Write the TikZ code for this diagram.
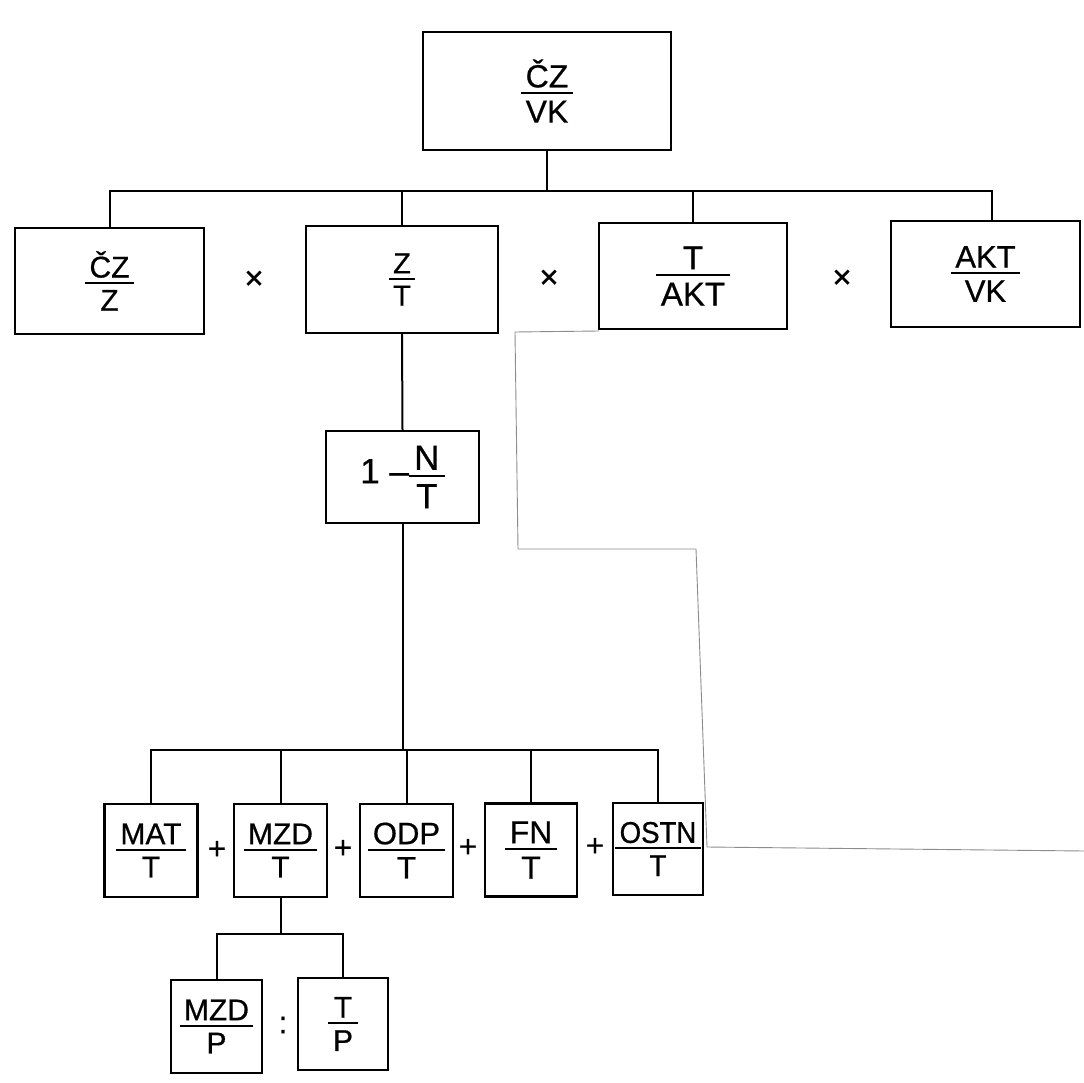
\documentclass[tikz,border=0pt]{standalone}
\usepackage{fontspec}
\setmainfont{Liberation Sans}[FakeBold=0.6]
\newfontfamily\narrowsans{Liberation Sans}[FakeBold=0.6,FakeStretch=0.92]
\setlength\arrayrulewidth{2pt}
\newcommand\fr[2]{{\renewcommand\arraystretch{0}%
\begin{tabular}{@{\hspace{.15em}}c@{\hspace{.15em}}}\rule[-.15em]{0pt}{.75em}#1\\\hline\rule{0pt}{.89em}#2\end{tabular}}}
\begin{document}
\begin{tikzpicture}[x=1pt,y=-1pt,
  box/.style={draw,line width=2.2pt,inner sep=0pt,align=center},
  conn/.style={line width=2pt},
  op/.style={inner sep=0pt},
  fs/.style={font=\fontsize{#1}{#1}\selectfont},
  scanedge/.style={line width=0.9pt,black!45}]
\useasboundingbox (0,0) rectangle (1084,1083);
\fill[white] (0,0) rectangle (1084,1083);

% top
\node[box,fs=32,minimum width=248pt,minimum height=118pt] (top) at (547,91) {\fr{ČZ}{VK}};

% row 1
\node[box,fs=30,minimum width=189pt,minimum height=106pt] (b1) at (109.5,281) {\fr{ČZ}{Z}};
\node[box,fs=29,minimum width=192pt,minimum height=107pt] (b2) at (402,279.5) {\fr{Z}{T}};
\node[box,fs=33,minimum width=188pt,minimum height=106pt] (b3) at (693,276) {\fr{T}{AKT}};
\node[box,fs=31,minimum width=189pt,minimum height=106pt] (b4) at (985.5,274) {\fr{AKT}{VK}};
\node[op,fs=33] (x1) at (254,280) {×};
\node[op,fs=33] (x2) at (549,279) {×};
\node[op,fs=33] (x3) at (842,279) {×};

% 1 - N/T
\node[box,fs=35,minimum width=153pt,minimum height=92pt] (nb) at (402.5,477) {1 –\fr{N}{T}};

% row 3
\node[box,fs=30,minimum width=93pt,minimum height=93pt] (mat) at (151,850.5) {\fr{MAT}{T}};
\node[box,fs=30,minimum width=93pt,minimum height=93pt] (mzd) at (280.5,850.5) {\fr{MZD}{T}};
\node[box,fs=31,minimum width=93pt,minimum height=93pt] (odp) at (406.5,850.5) {\fr{ODP}{T}};
\node[box,fs=32,minimum width=92pt,minimum height=93pt] (fn) at (531,850) {\fr{FN}{T}};
\node[box,font=\fontsize{30}{30}\narrowsans,minimum width=90pt,minimum height=92pt] (ostn) at (658,849) {\fr{OSTN}{T}};
\node[op,fs=31] (p1) at (217,850) {+};
\node[op,fs=31] (p2) at (343,849) {+};
\node[op,fs=31] (p3) at (468,848) {+};
\node[op,fs=31] (p4) at (595,847) {+};

% row 4
\node[box,fs=30,minimum width=91pt,minimum height=93pt] (mzdp) at (216.5,1026.5) {\fr{MZD}{P}};
\node[box,fs=30,minimum width=90pt,minimum height=92pt] (tp) at (343,1024) {\fr{T}{P}};
\node[op,fs=31] (colon) at (283,1025) {:};

% connectors
\coordinate (bus1) at (547,191);
\coordinate (bus3) at (405,750);
\coordinate (bus4) at (280,934);
\coordinate (d4) at ([xshift=6pt]b4.north);
\draw[conn] (top.south) -- (top.south |- bus1);
\draw[conn] (b1.north) -- (b1.north |- bus1) -- (d4 |- bus1) -- (d4);
\draw[conn] (b2.north) -- (b2.north |- bus1);
\draw[conn] (b3.north) -- (b3.north |- bus1);
\draw[conn] (b2.south) -- (nb.north);
\draw[conn] (nb.south) -- (nb.south |- bus3);
\draw[conn] (mat.north) -- (mat.north |- bus3) -- (ostn.north |- bus3) -- (ostn.north);
\draw[conn] (mzd.north) -- (mzd.north |- bus3);
\draw[conn] (odp.north) -- (odp.north |- bus3);
\draw[conn] (fn.north) -- (fn.north |- bus3);
\draw[conn] (mzd.south) -- (mzd.south |- bus4);
\draw[conn] (mzdp.north) -- (mzdp.north |- bus4) -- (tp.north |- bus4) -- (tp.north);

% edge of pasted paper (scan)
\draw[scanedge] (599,331) -- (515,332) -- (518,549) -- (696,549) -- (707,847) -- (1084,851);
\end{tikzpicture}
\end{document}
